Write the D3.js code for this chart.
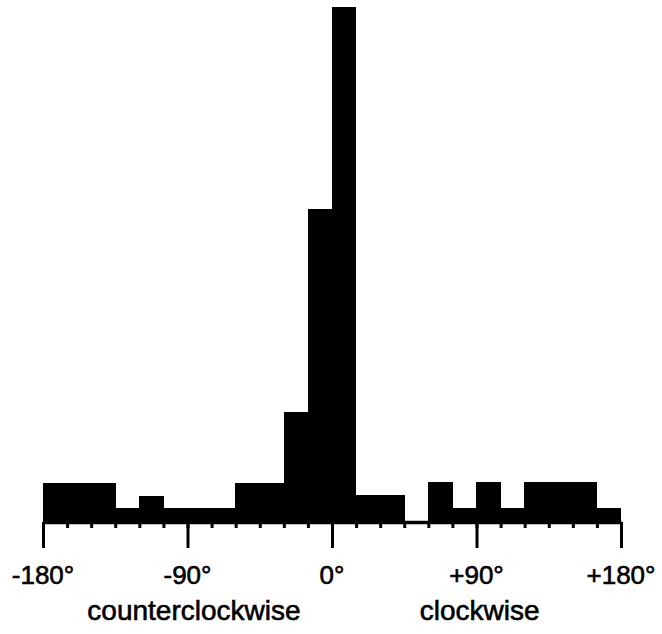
<!DOCTYPE html>
<html>
<head>
<meta charset="utf-8">
<script src="https://cdn.jsdelivr.net/npm/d3@7"></script>
<style>
  html, body { margin: 0; padding: 0; background: #fff; }
  svg { display: block; }
</style>
</head>
<body>
<svg id="chart" width="662" height="634"></svg>
<script>
// Bin starts (degrees), each bin 15° wide
const binStarts = [-180,-165,-150,-135,-120,-105,-90,-75,-60,-45,-30,-15,0,15,30,45,60,75,90,105,120,135,150,165];
const binCounts = [3,3,3,1,2,1,1,1,3,3,8.7,24.9,41,2.1,2.1,0,3.1,1,3.1,1,3.1,3.1,3.1,1];
const binWidth = 15;
const minorTicks = d3.range(-180, 181, 15);
const majorTicks = [-180, -90, 0, 90, 180];
const majorLabels = ["-180°", "-90°", "0°", "+90°", "+180°"];
const directionLabels = [
  { text: "counterclockwise", at: -86 },
  { text: "clockwise", at: 92 }
];

const svg = d3.select("#chart");
const x = d3.scaleLinear().domain([-180, 180]).range([43, 621]);
const y = d3.scaleLinear().domain([0, 41]).range([521, 7]);

// bars
svg.append("g")
  .selectAll("rect")
  .data(binStarts.map((s, i) => ({ s, v: binCounts[i] })).filter(d => d.v > 0))
  .join("rect")
  .attr("x", d => x(d.s) - 0.3)
  .attr("width", d => x(d.s + binWidth) - x(d.s) + 0.6)
  .attr("y", d => y(d.v))
  .attr("height", d => y(0) - y(d.v) + 1)
  .attr("fill", "#000")
  .attr("shape-rendering", "crispEdges");

// axis: minor ticks
const axisY = 522;
const minorAxis = d3.axisBottom(x).tickValues(minorTicks).tickSize(6).tickSizeOuter(0).tickFormat("");
const gMinor = svg.append("g").attr("transform", `translate(0,${axisY})`).call(minorAxis);
gMinor.select(".domain").attr("stroke", "#000").attr("stroke-width", 3.5);
gMinor.selectAll(".tick line").attr("stroke", "#000").attr("stroke-width", 3);

// major ticks
const majorAxis = d3.axisBottom(x).tickValues(majorTicks).tickSize(26).tickSizeOuter(0).tickFormat("");
const gMajor = svg.append("g").attr("transform", `translate(0,${axisY})`).call(majorAxis);
gMajor.select(".domain").remove();
gMajor.selectAll(".tick line").attr("stroke", "#000").attr("stroke-width", 3);

// major labels
svg.append("g")
  .selectAll("text")
  .data(majorTicks.map((v, i) => ({ v, t: majorLabels[i] })))
  .join("text")
  .attr("x", d => x(d.v))
  .attr("y", 584)
  .attr("text-anchor", "middle")
  .attr("font-family", "Liberation Sans, Arial, sans-serif")
  .attr("font-size", 26)
  .attr("fill", "#000")
  .attr("stroke", "#000")
  .attr("stroke-width", 0.6)
  .text(d => d.t);

// direction labels
svg.append("g")
  .selectAll("text")
  .data(directionLabels)
  .join("text")
  .attr("x", d => x(d.at))
  .attr("y", 620)
  .attr("text-anchor", "middle")
  .attr("font-family", "Liberation Sans, Arial, sans-serif")
  .attr("font-size", 28)
  .attr("fill", "#000")
  .attr("stroke", "#000")
  .attr("stroke-width", 0.6)
  .text(d => d.text);
</script>
</body>
</html>
